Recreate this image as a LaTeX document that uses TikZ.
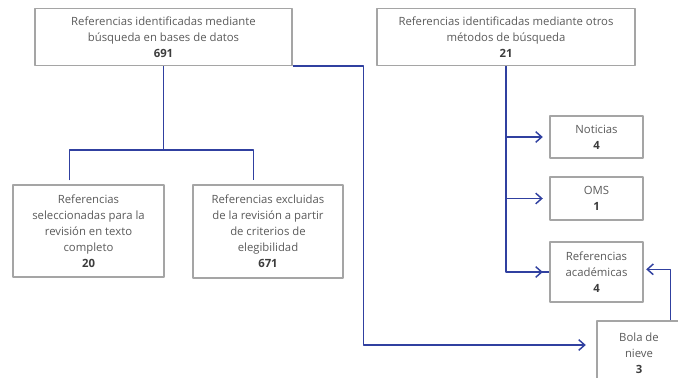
\documentclass[tikz,border=0pt]{standalone}
\usepackage{fontspec}
\setmainfont{Open Sans}
\usetikzlibrary{arrows.meta,calc}
\definecolor{azul}{RGB}{48,64,160}
\definecolor{borde}{RGB}{165,165,165}
\definecolor{texto}{RGB}{90,90,90}
\definecolor{cifra}{RGB}{60,60,60}
\begin{document}
\begin{tikzpicture}[x=.75pt,y=-.75pt,>={Straight Barb[length=4.5pt,width=8pt]},
	font=\fontsize{8.5}{12}\selectfont, line join=round,
	caja/.style 2 args={draw=borde,line width=.8pt,text=texto,align=center,inner sep=1pt,
		minimum width=#1*.75pt,minimum height=#2*.75pt},
	enlace/.style={draw=azul,line width=1.1pt}]
	\def\num#1{\\\textbf{\color{cifra}#1}}
	\useasboundingbox (0,0) rectangle (678,378);
	\clip (0,0) rectangle (678,378);
	% Cajas
	\node[caja={257}{57}] (bases) at (163.5,37) {Referencias identificadas mediante\\búsqueda en bases de datos\num{691}};
	\node[caja={258}{57}] (otros) at (506,37) {Referencias identificadas mediante otros\\métodos de búsqueda\num{21}};
	\node[caja={151}{92}] (selec) at (88.5,231) {Referencias\\seleccionadas para la\\revisión en texto\\completo\num{20}};
	\node[caja={150}{93}] (excl) at (268,231.5) {Referencias excluidas\\de la revisión a partir\\de criterios de\\elegibilidad\num{671}};
	\node[caja={93}{42}] (noticias) at (596.5,137) {Noticias\num{4}};
	\node[caja={93}{43}] (oms) at (596.5,198.5) {OMS\num{1}};
	\node[caja={93}{60}] (acad) at (596.5,272) {Referencias\\académicas\num{4}};
	\node[caja={84}{64}] (bola) at (639,353) {Bola de\\nieve\num{3}};
	% Conectores
	\coordinate (rama) at (163.5,150);
	\draw[enlace] (bases.south) -- (rama);
	\draw[enlace] ($(selec.north west)+(57,-4)$) |- (rama) -| ($(excl.north west)+(61,-4)$);
	\draw[enlace,->,shorten >=8pt] (bases.south east) -- ++(71,0) |- ([yshift=6pt]bola.west);
	\draw[enlace] (otros.south) |- (acad.west);
	\foreach \c in {noticias,oms,acad}
		\draw[enlace,->,shorten >=5pt] (otros.south |- \c.west) -- (\c.west);
	\draw[enlace,->,shorten >=2pt] ($(bola.north west)+(74,0)$) |- ([yshift=2pt]acad.east);
\end{tikzpicture}
\end{document}
